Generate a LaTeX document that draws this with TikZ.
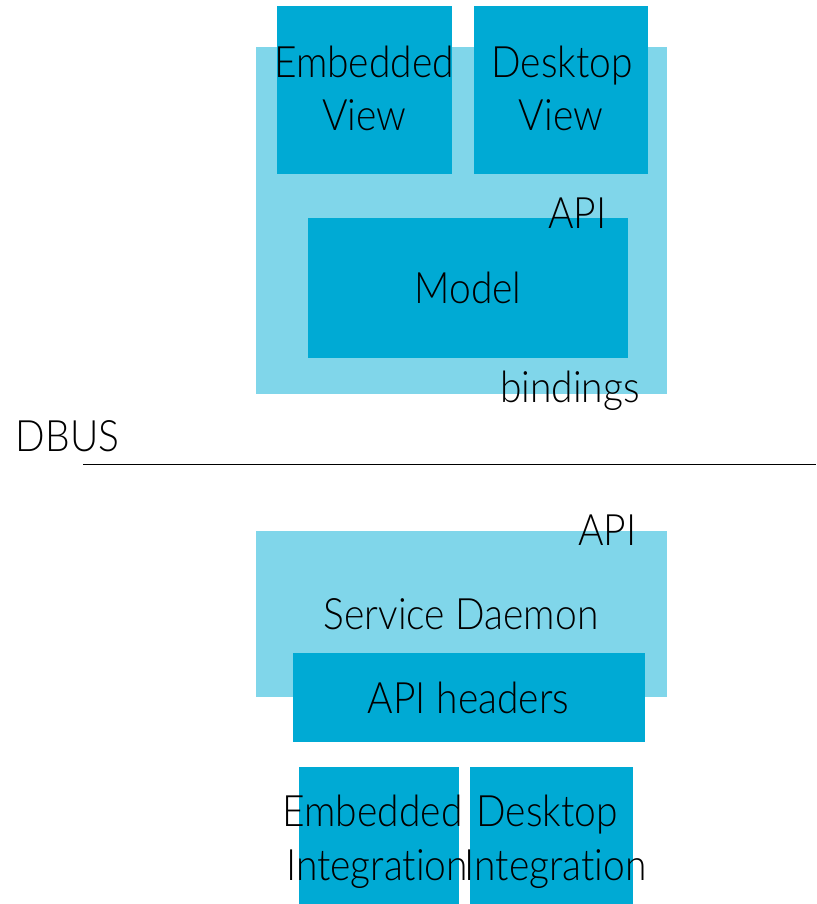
\documentclass[tikz,border=0pt]{standalone}
\usepackage{fontspec}
\setmainfont{Lato}[UprightFont=* Light, FakeStretch=0.9, Ligatures=NoCommon]
\definecolor{paleblue}{RGB}{128,214,234}
\definecolor{deepblue}{RGB}{0,170,212}
\begin{document}
\begin{tikzpicture}[x=1pt,y=-1pt,
  blk/.style={anchor=north west, inner sep=0pt, outer sep=0pt, draw=none},
  pale/.style={blk, fill=paleblue},
  deep/.style={blk, fill=deepblue},
  lbl/.style={anchor=base, inner sep=0pt, font=\fontsize{43.3}{53}\selectfont}]
\useasboundingbox (0,0) rectangle (816,904);

% client side
\node[pale, minimum width=411pt, minimum height=347pt] (client) at (256,47) {};
\node[deep, minimum width=175pt, minimum height=168pt] (embview) at (277,6) {};
\node[deep, minimum width=174pt, minimum height=168pt] (deskview) at (474,6) {};
\node[deep, minimum width=320pt, minimum height=140pt] (model) at (308,218) {};

\node[lbl] (embviewA) at (364,78) {Embedded};
\node[lbl] (embviewB) at (364.5,131) {View};
\node[lbl] (deskviewA) at (562,78) {Desktop};
\node[lbl] (deskviewB) at (561,131) {View};
\node[lbl] (apitop) at (577.5,228) {API};
\node[lbl] (modeltxt) at (468,303) {Model};
\node[lbl] (bindings) at (570,402) {bindings};

% bus separator
\node[lbl] (dbus) at (67.5,451) {DBUS};
\coordinate (busL) at (83,464);
\coordinate (busR) at (816,464);
\draw[line width=1pt] (busL) -- (busR);

% service side
\node[pale, minimum width=411pt, minimum height=166pt] (daemon) at (256,531) {};
\node[deep, minimum width=352pt, minimum height=89pt] (headers) at (293,653) {};
\node[deep, minimum width=160pt, minimum height=137pt] (embint) at (299,767) {};
\node[deep, minimum width=163pt, minimum height=137pt] (deskint) at (470,767) {};

\node[lbl] (apibottom) at (607.5,545) {API};
\node[lbl] (daemontxt) at (461,629) {Service Daemon};
\node[lbl] (headerstxt) at (468.5,713) {API headers};
\node[lbl] (embintA) at (372.5,826) {Embedded};
\node[lbl] (embintB) at (377,880) {Integration};
\node[lbl] (deskintA) at (547,826) {Desktop};
\node[lbl] (deskintB) at (555.5,880) {Integration};
\end{tikzpicture}
\end{document}
